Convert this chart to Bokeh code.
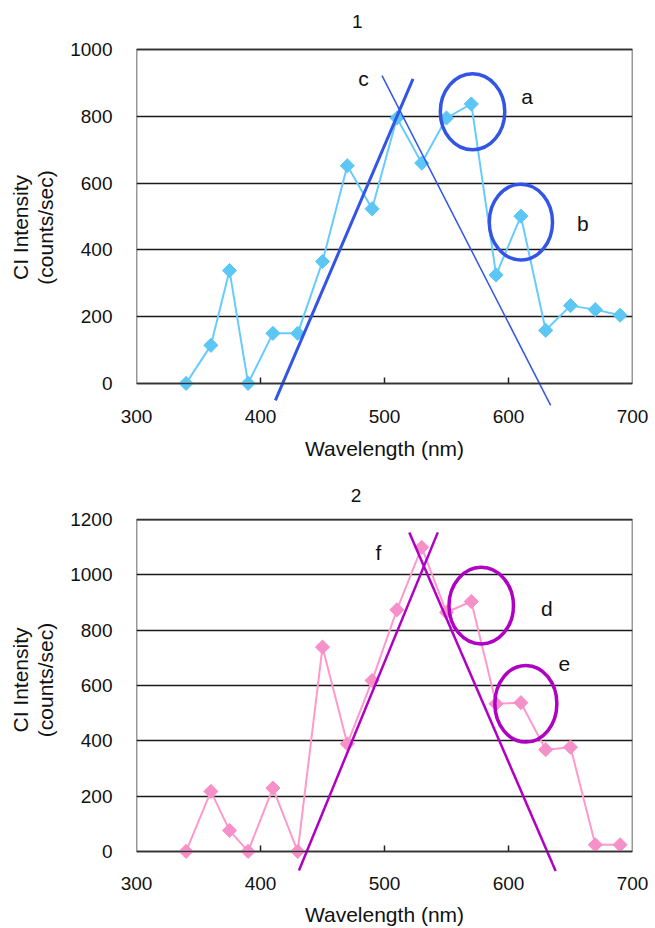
import math
from bokeh.plotting import figure
from bokeh.models import Range1d, FixedTicker, BoxAnnotation
from bokeh.layouts import column
from bokeh.embed import file_html
from bokeh.resources import INLINE
from bokeh.core.properties import value

# ---------------- data ----------------
wavelength = [340, 360, 375, 390, 410, 430, 450, 470, 490, 510, 530, 550, 570, 590, 610, 630, 650, 670, 690]
intensity_1 = [0, 114, 338, 0, 150, 150, 365, 652, 523, 795, 660, 795, 837, 325, 501, 159, 233, 221, 204]
intensity_2 = [0, 217, 76, 0, 229, 0, 739, 389, 618, 874, 1100, 865, 904, 534, 538, 368, 377, 24, 24]

x_ticks = [300, 400, 500, 600, 700]
y_ticks_1 = [0, 200, 400, 600, 800, 1000]
y_ticks_2 = [0, 200, 400, 600, 800, 1000, 1200]

# hand-drawn guide lines (end points, data units)
rise_1_x = [412, 523]
rise_1_y = [-51, 912]
fall_1_x = [498, 634]
fall_1_y = [922, -66]
rise_2_x = [431, 543]
rise_2_y = [-69, 1154]
fall_2_x = [520, 638]
fall_2_y = [1154, -71]

# circled peaks
circle_1_x = [571, 610]
circle_1_y = [814, 483]
circle_1_w = [52, 51]
circle_1_h = [228, 227]
circle_2_x = [578, 614]
circle_2_y = [889, 534]
circle_2_w = [52, 50]
circle_2_h = [277, 277]

letters_1 = ["a", "b", "c"]
letters_1_x = [615, 660, 483]
letters_1_y = [860, 480, 912]
letters_2 = ["d", "e", "f"]
letters_2_x = [631, 645, 495]
letters_2_y = [877, 678, 1082]

# panel titles (drawn inside the frame's head-room above the boxed area)
title_1 = ["1"]
title_1_x = [478]
title_1_y = [1084]
title_2 = ["2"]
title_2_x = [477]
title_2_y = [1287]

FONT = "Liberation Sans"
INK = "#111111"


def build(xs, ys, yticks, ystart, ytop, height, mb_left, mb_right, mb_top, mb_bottom,
          series_line, series_marker, fit_color, rise, fall, rise_w, fall_w,
          circ, letters, title, label_std, xstd, xlabel_std, ylab_std):
    p = figure(width=655, height=height,
               x_range=Range1d(x_ticks[0], x_ticks[-1]),
               y_range=Range1d(ystart, ytop),
               output_backend="svg", toolbar_location=None,
               min_border_left=mb_left, min_border_right=mb_right,
               min_border_top=mb_top, min_border_bottom=mb_bottom,
               outline_line_color=None, background_fill_color="white",
               border_fill_color="white")

    # x axis (labels only)
    xa = p.xaxis[0]
    xa.ticker = FixedTicker(ticks=x_ticks)
    xa.axis_line_color = None
    xa.major_tick_in = 0
    xa.major_tick_out = 0
    xa.minor_tick_line_color = None
    xa.major_label_standoff = xstd
    xa.major_label_text_font = FONT
    xa.major_label_text_font_size = "19px"
    xa.major_label_text_color = INK
    xa.axis_label = "Wavelength (nm)"
    xa.axis_label_standoff = xlabel_std
    xa.axis_label_text_font = FONT
    xa.axis_label_text_font_size = "21px"
    xa.axis_label_text_font_style = "normal"
    xa.axis_label_text_color = INK

    # y axis
    ya = p.yaxis[0]
    ya.ticker = FixedTicker(ticks=yticks)
    ya.axis_line_color = None
    ya.major_tick_in = 0
    ya.major_tick_out = 0
    ya.minor_tick_line_color = None
    ya.major_label_standoff = label_std
    ya.major_label_text_font = FONT
    ya.major_label_text_font_size = "19px"
    ya.major_label_text_color = INK
    ya.axis_label = "CI Intensity\n(counts/sec)"
    ya.axis_label_standoff = ylab_std
    ya.axis_label_text_font = FONT
    ya.axis_label_text_font_size = "21px"
    ya.axis_label_text_line_height = 1.1
    ya.axis_label_text_font_style = "normal"
    ya.axis_label_text_color = INK

    p.xgrid.visible = False
    p.ygrid.ticker = FixedTicker(ticks=yticks)
    p.ygrid.grid_line_color = "#1a1a1a"
    p.ygrid.grid_line_width = 1.5

    box = BoxAnnotation(left=x_ticks[0], right=x_ticks[-1], bottom=yticks[0], top=yticks[-1],
                        fill_color=None, fill_alpha=0, line_color="#333333",
                        line_alpha=1.0, line_width=1.5)
    p.add_layout(box)

    # small inward tick marks on the zero line (6 px tall)
    frame_h = height - mb_top - mb_bottom
    tick_len = 6 * (ytop - ystart) / frame_h
    inner = x_ticks[1:-1]
    p.segment(x0=inner, y0=[yticks[0]] * len(inner), x1=inner,
              y1=[yticks[0] + tick_len] * len(inner), line_color="#222222", line_width=1.5)

    p.line(xs, ys, line_color=series_line, line_width=2)
    p.scatter(xs, ys, marker="square", angle=math.pi / 4, size=10,
              fill_color=series_marker, line_color=series_marker)

    p.line(rise[0], rise[1], line_color=fit_color, line_width=rise_w)
    p.line(fall[0], fall[1], line_color=fit_color, line_width=fall_w)

    p.ellipse(x=circ[0], y=circ[1], width=circ[2], height=circ[3],
              fill_color=None, line_color=fit_color, line_width=3.5)

    p.text(x=letters[1], y=letters[2], text=letters[0], text_font=value(FONT),
           text_font_size="21px", text_align="center", text_baseline="middle",
           text_color=INK)

    p.text(x=title[1], y=title[2], text=title[0], text_font=value(FONT),
           text_font_size="19px", text_align="center", text_baseline="middle",
           text_color=INK)
    return p


p1 = build(wavelength, intensity_1, y_ticks_1, -177, 1111, 475, 133, 22, 12, 33,
           "#66CCFF", "#5CC6F5", "#3355E6",
           (rise_1_x, rise_1_y), (fall_1_x, fall_1_y), 3, 1.5,
           (circle_1_x, circle_1_y, circle_1_w, circle_1_h),
           (letters_1, letters_1_x, letters_1_y),
           (title_1, title_1_x, title_1_y),
           24, -33, 11, 10)

p2 = build(wavelength, intensity_2, y_ticks_2, -80, 1320, 453, 136, 23, 11, 55,
           "#FF99CC", "#F590C8", "#B000C4",
           (rise_2_x, rise_2_y), (fall_2_x, fall_2_y), 2.5, 2.5,
           (circle_2_x, circle_2_y, circle_2_w, circle_2_h),
           (letters_2, letters_2_x, letters_2_y),
           (title_2, title_2_x, title_2_y),
           24, 3, 10, 10)

layout = column(p1, p2, spacing=0)

with open("out.html", "w") as f:
    f.write(file_html(layout, INLINE))
